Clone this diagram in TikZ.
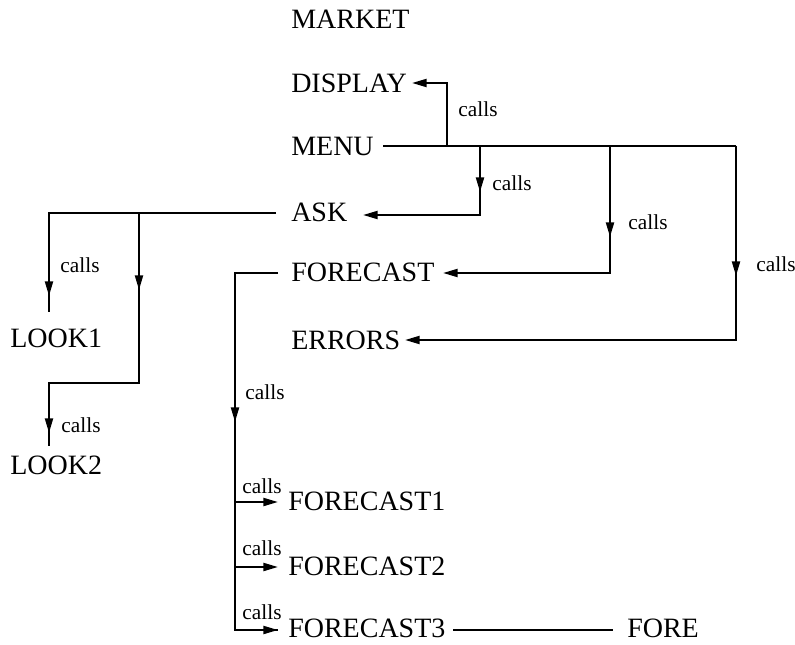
\documentclass[tikz,border=0pt]{standalone}
\usepackage{fontspec}
\setmainfont{Liberation Serif}
\usetikzlibrary{arrows.meta}
\begin{document}
\begin{tikzpicture}[x=0.75pt,y=-0.75pt,
  lbl/.style={anchor=west,inner sep=0pt,font=\fontsize{21}{21}\selectfont},
  callslbl/.style={inner sep=0pt,font=\fontsize{16}{16}\selectfont},
  conn/.style={line width=1.6pt},
  arr/.style={line width=1.6pt,-{Triangle[length=11pt,width=6pt]}}]
\useasboundingbox (0,0) rectangle (795,645);
% nodes
\node[lbl] (market) at (291,19) {MARKET};
\node[lbl] (display) at (291,83) {DISPLAY};
\node[lbl] (menu) at (291,146) {MENU};
\node[lbl] (ask) at (291,212) {ASK};
\node[lbl] (forecast) at (291,272) {FORECAST};
\node[lbl] (errors) at (291,340) {ERRORS};
\node[lbl] (look1) at (10,338) {LOOK1};
\node[lbl] (look2) at (10,465) {LOOK2};
\node[lbl] (f1) at (288,501) {FORECAST1};
\node[lbl] (f2) at (288,566) {FORECAST2};
\node[lbl] (f3) at (288,628) {FORECAST3};
\node[lbl] (fore) at (627,628) {FORE};
% coordinates
\coordinate (menuout) at (383,146);
\coordinate (menuend) at (736,146);
\coordinate (bD) at (447,146);
\coordinate (bA) at (480,146);
\coordinate (bF) at (610,146);
\coordinate (dispin) at (412,83);
\coordinate (askin) at (363,215);
\coordinate (fcin) at (443,273);
\coordinate (errin) at (405,340);
\coordinate (askout) at (276,213);
\coordinate (lA) at (49,213);
\coordinate (lB) at (139,213);
\coordinate (l1in) at (49,312);
\coordinate (lBend) at (139,383);
\coordinate (l2in) at (49,446);
\coordinate (fcout) at (278,273);
\coordinate (fv) at (235,273);
\coordinate (f1in) at (278,502);
\coordinate (f2in) at (278,567);
\coordinate (f3in) at (278,630);
\coordinate (f3out) at (453,630);
\coordinate (forein) at (613,630);
% MENU connectors
\draw[conn] (menuout) -- (menuend);
\draw[arr] (bD) |- (dispin);
\draw[arr] (bA) |- (askin);
\draw[arr] (bA) -- (480,192);
\draw[arr] (bF) |- (fcin);
\draw[arr] (bF) -- (610,237);
\draw[arr] (menuend) |- (errin);
\draw[arr] (menuend) -- (736,276);
% ASK connectors
\draw[conn] (askout) -- (lA) -- (l1in);
\draw[arr] (lA) -- (49,296);
\draw[conn] (lB) -- (lBend) -| (l2in);
\draw[arr] (lB) -- (139,290);
\draw[arr] (49,383) -- (49,433);
% FORECAST connectors
\draw[conn] (fcout) -- (fv) |- (f3in);
\draw[arr] (fv) -- (235,422);
\draw[arr] (235,502) -- (f1in);
\draw[arr] (235,567) -- (f2in);
\draw[arr] (235,630) -- (f3in);
\draw[conn] (f3out) -- (forein);
% labels
\node[callslbl] at (478,109) {calls};
\node[callslbl] at (512,183) {calls};
\node[callslbl] at (648,222) {calls};
\node[callslbl] at (776,264) {calls};
\node[callslbl] at (80,265) {calls};
\node[callslbl] at (81,425) {calls};
\node[callslbl] at (265,392) {calls};
\node[callslbl] at (262,486) {calls};
\node[callslbl] at (262,548) {calls};
\node[callslbl] at (262,612) {calls};
\end{tikzpicture}
\end{document}
